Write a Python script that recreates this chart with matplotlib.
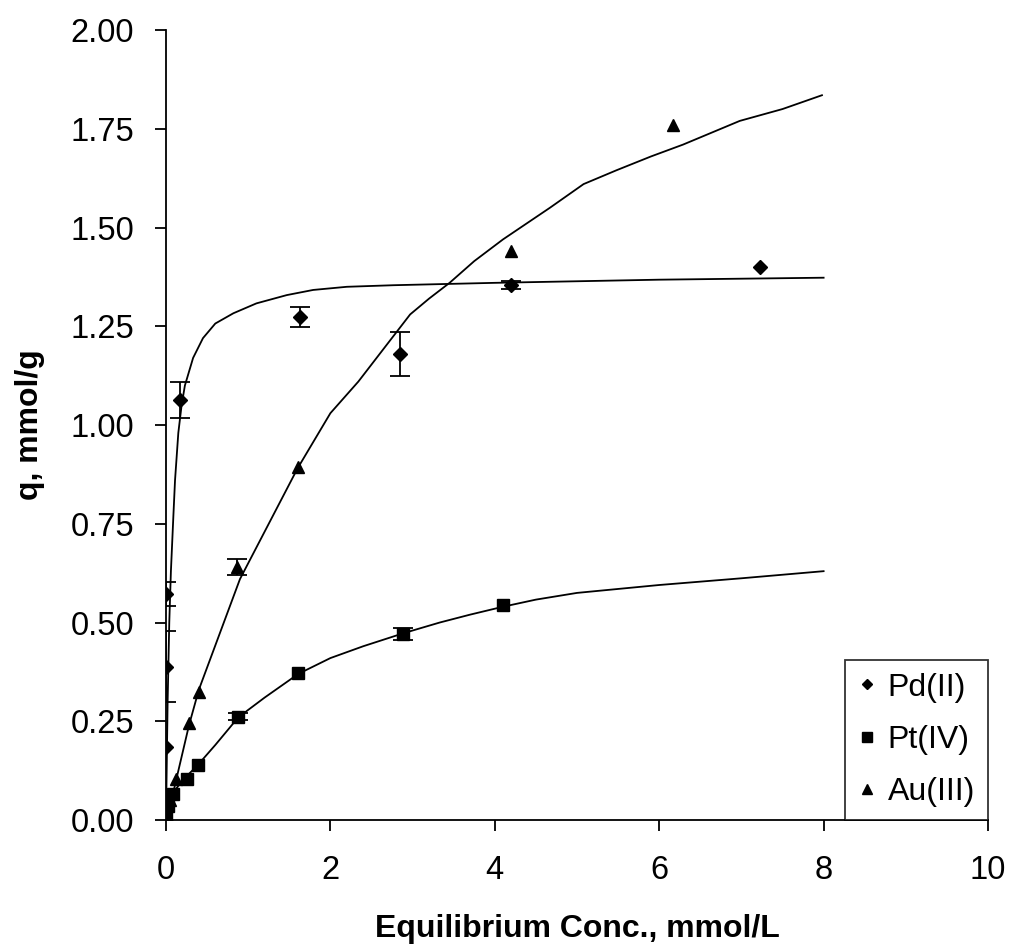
import matplotlib
matplotlib.use("Agg")
import matplotlib.pyplot as plt

plt.rcParams['font.family'] = ['Liberation Sans', 'DejaVu Sans']

# measured points (x = equilibrium conc., y = q)
pd_x = [0.0, 0.0, 0.0, 0.17, 1.63, 2.85, 4.2, 7.23]
pd_y = [0.186, 0.388, 0.572, 1.063, 1.274, 1.18, 1.355, 1.40]
pd_err = [0.0, 0.09, 0.03, 0.045, 0.025, 0.055, 0.01, 0.0]

pt_x = [0.005, 0.03, 0.08, 0.25, 0.39, 0.88, 1.61, 2.88, 4.1]
pt_y = [0.01, 0.035, 0.065, 0.105, 0.14, 0.262, 0.371, 0.472, 0.545]
pt_err = [0.0, 0.0, 0.0, 0.0, 0.0, 0.01, 0.0, 0.015, 0.0]

au_x = [0.01, 0.05, 0.12, 0.28, 0.40, 0.86, 1.61, 4.2, 6.17]
au_y = [0.01, 0.05, 0.105, 0.245, 0.325, 0.64, 0.895, 1.44, 1.76]
au_err = [0.0, 0.0, 0.0, 0.0, 0.0, 0.02, 0.0, 0.0, 0.0]

# fitted curves
pd_fit_x = [0, 0.02, 0.04, 0.06, 0.09, 0.11, 0.15, 0.19, 0.23, 0.33, 0.45, 0.6, 0.82,
            1.1, 1.47, 1.79, 2.2, 2.77, 4.0, 6.0, 8.0]
pd_fit_y = [0, 0.30, 0.50, 0.63, 0.77, 0.86, 0.98, 1.05, 1.10, 1.17, 1.22, 1.257, 1.283,
            1.308, 1.329, 1.342, 1.35, 1.354, 1.36, 1.368, 1.373]

pt_fit_x = [0, 0.09, 0.2, 0.39, 0.6, 0.88, 1.2, 1.61, 2.0, 2.4, 2.89, 3.33, 3.7, 4.1,
            4.5, 5.0, 6.0, 7.0, 8.0]
pt_fit_y = [0, 0.07, 0.10, 0.14, 0.19, 0.26, 0.31, 0.37, 0.41, 0.44, 0.473, 0.50, 0.52,
            0.54, 0.558, 0.575, 0.595, 0.612, 0.63]

au_fit_x = [0, 0.1, 0.28, 0.4, 0.9, 1.6, 2.0, 2.34, 2.97, 3.2, 3.45, 3.75, 4.1, 4.67,
            5.08, 5.48, 5.9, 6.29, 6.98, 7.5, 7.98]
au_fit_y = [0, 0.08, 0.24, 0.33, 0.61, 0.89, 1.03, 1.11, 1.28, 1.32, 1.36, 1.415, 1.47,
            1.55, 1.61, 1.645, 1.68, 1.71, 1.77, 1.80, 1.835]

xticks = [0, 2, 4, 6, 8, 10]
yticks = [0, 0.25, 0.5, 0.75, 1.0, 1.25, 1.5, 1.75, 2.0]

fig = plt.figure(figsize=(10.09, 9.48), dpi=100)
ax = fig.add_axes([0.1645, 0.135, 0.8147, 0.8333])

ax.plot(pd_fit_x, pd_fit_y, color='black', lw=1.3)
ax.plot(pt_fit_x, pt_fit_y, color='black', lw=1.3)
ax.plot(au_fit_x, au_fit_y, color='black', lw=1.3)

series = [
    (pd_x, pd_y, pd_err, 'D', 7, 'Pd(II)'),
    (pt_x, pt_y, pt_err, 's', 8.5, 'Pt(IV)'),
    (au_x, au_y, au_err, '^', 9, 'Au(III)'),
]
for xs, ys, errs, mk, ms, name in series:
    ax.plot(xs, ys, linestyle='none', marker=mk, ms=ms, color='black', label=name)
    # error bars only where there is one
    ex = [x for x, e in zip(xs, errs) if e > 0]
    ey = [y for y, e in zip(ys, errs) if e > 0]
    ee = [e for e in errs if e > 0]
    ax.errorbar(ex, ey, yerr=ee, fmt='none', ecolor='black',
                elinewidth=1.3, capsize=7, capthick=1.3)

ax.set_xlim(0, 10)
ax.set_ylim(0, 2.0)
ax.set_xticks(xticks)
ax.set_yticks(yticks)
ax.set_yticklabels([f'{v:.2f}' for v in yticks])
ax.tick_params(direction='out', length=8, width=1.3, labelsize=23.5)
ax.tick_params(axis='x', pad=17)
ax.tick_params(axis='y', pad=15)
ax.spines['top'].set_visible(False)
ax.spines['right'].set_visible(False)
ax.spines['left'].set_linewidth(1.3)
ax.spines['bottom'].set_linewidth(1.3)

ax.set_xlabel('Equilibrium Conc., mmol/L', fontsize=23, fontweight='bold', labelpad=20)
ax.set_ylabel('q, mmol/g', fontsize=23, fontweight='bold', labelpad=18)

leg = ax.legend(loc='lower right', bbox_to_anchor=(1.0, 0.0),
                borderaxespad=0, fontsize=23, frameon=True, fancybox=False,
                handlelength=0.6, handletextpad=0.35, labelspacing=0.7,
                borderpad=0.4, markerscale=0.8)
leg.get_frame().set_edgecolor('black')
leg.get_frame().set_linewidth(1.3)

fig.savefig('out.png', dpi=100)
